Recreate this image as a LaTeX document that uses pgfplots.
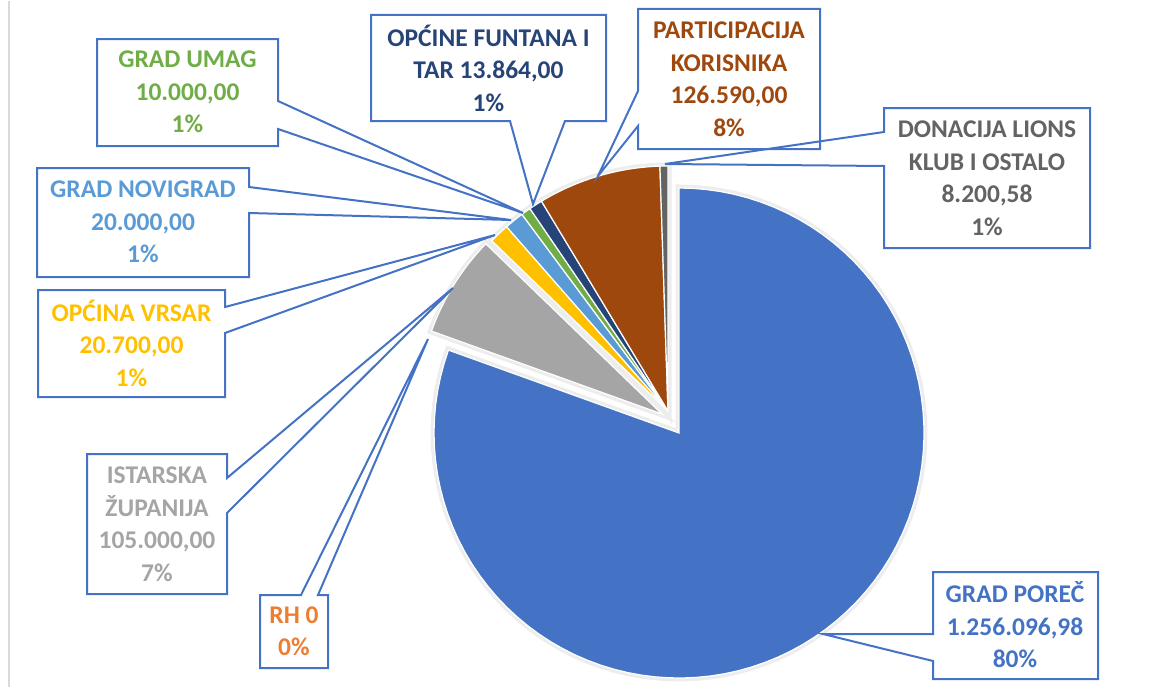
\documentclass[border=0pt]{standalone}
\usepackage{fontspec}
\setmainfont{Carlito}
\usepackage{pgfplots}
\pgfplotsset{compat=1.18}
\usepackage{pgfplotstable}

\definecolor{slice0}{HTML}{4472C4} % Grad Poreč
\definecolor{slice1}{HTML}{ED7D31} % RH
\definecolor{slice2}{HTML}{A5A5A5} % Istarska županija
\definecolor{slice3}{HTML}{FFC000} % Općina Vrsar
\definecolor{slice4}{HTML}{5B9BD5} % Grad Novigrad
\definecolor{slice5}{HTML}{70AD47} % Grad Umag
\definecolor{slice6}{HTML}{264478} % Općine Funtana i Tar
\definecolor{slice7}{HTML}{9E480E} % Participacija korisnika
\definecolor{slice8}{HTML}{636363} % Donacija Lions klub
\colorlet{callout}{slice0}

% slices clockwise from 12 o'clock; dx dy = explosion offset (px)
\pgfplotstableread{
value      dx  dy
1256096.98 11  22
0           0   0
105000.00  -6   3
20700.00    0   0
20000.00    0   0
10000.00    0   0
13864.00    0   0
126590.00   0   0
8200.58     0   0
}\piedata

\def\total{0}
\pgfplotsforeachungrouped \i in {0,...,8}{%
  \pgfplotstablegetelem{\i}{value}\of\piedata
  \edef\total{\fpeval{\total+\pgfplotsretval}}}

\newcommand\pieslices[1]{%
  \def\cum{0}%
  \pgfplotsforeachungrouped \i in {0,...,8}{%
    \pgfplotstablegetelem{\i}{value}\of\piedata \let\v\pgfplotsretval
    \pgfplotstablegetelem{\i}{dx}\of\piedata \let\dx\pgfplotsretval
    \pgfplotstablegetelem{\i}{dy}\of\piedata \let\dy\pgfplotsretval
    \edef\a{\fpeval{round(-90+360*\cum/\total,4)}}%
    \edef\cum{\fpeval{\cum+\v}}%
    \edef\b{\fpeval{round(-90+360*\cum/\total,4)}}%
    \edef\cx{\fpeval{668+\dx}}\edef\cy{\fpeval{410+\dy}}%
    \ifnum\fpeval{\v>0}>0
      \edef\doplot{\noexpand\addplot[fill=slice\i, #1, domain=\a:\b,
        samples=90, variable=\noexpand\t]
        ({\cx+245*cos(\noexpand\t)}, {\cy+245*sin(\noexpand\t)})
        -- (\cx,\cy) -- cycle;}%
      \doplot
    \fi}}

\begin{document}
\begin{tikzpicture}[
  callout/.style={draw=callout, line width=2pt, line join=miter},
  lbl/.style={font=\fontsize{25.5}{32.5}\selectfont\bfseries,
    align=center, inner sep=0pt},
]
\begin{axis}[
  width=1153pt, height=686pt, scale only axis,
  xmin=0, xmax=1153, ymin=0, ymax=686, y dir=reverse,
  hide axis, clip=false,
]
\path (0,0) rectangle (1153,686);
\draw[black!15, line width=2pt] (9,0) -- (9,686);

\pieslices{fill=none, draw=black!7, line width=7pt}
\pieslices{draw=white, line width=1.2pt}

\draw[callout] (97,38) -- (278,38) -- (278,100) -- (523,212) -- (278,128)
  -- (278,145) -- (97,145) -- cycle;
\draw[callout] (371,14) -- (606,14) -- (606,120) -- (565,120) -- (533,203)
  -- (510,120) -- (371,120) -- cycle;
\draw[callout] (638,8) -- (820,8) -- (820,148) -- (638,148) -- (638,125)
  -- (598,175) -- (638,90) -- cycle;
\draw[callout] (884,107) -- (1090,107) -- (1090,247) -- (884,247) -- (884,165)
  -- (665,163) -- (884,131) -- cycle;
\draw[callout] (37,167) -- (249,167) -- (249,186) -- (511,219) -- (249,212)
  -- (249,276) -- (37,276) -- cycle;
\draw[callout] (38,289) -- (225,289) -- (225,306) -- (495,234) -- (225,332)
  -- (225,396) -- (38,396) -- cycle;
\draw[callout] (87,453) -- (227,453) -- (227,477) -- (453,287) -- (227,512)
  -- (227,593) -- (87,593) -- cycle;
\draw[callout] (260,594) -- (301,594) -- (428,338) -- (318,594) -- (328,594)
  -- (328,667) -- (260,667) -- cycle;
\draw[callout] (933,571) -- (1098,571) -- (1098,678) -- (933,678) -- (933,660)
  -- (823,633) -- (933,633) -- cycle;

\node[lbl, text=slice5] at (187.5,91) {GRAD UMAG\\10.000,00\\1\%};
\node[lbl, text=slice6] at (488.5,67) {OPĆINE FUNTANA I\\TAR 13.864,00\\1\%};
\node[lbl, text=slice7] at (729,78) {PARTICIPACIJA\\KORISNIKA\\126.590,00\\8\%};
\node[lbl, text=slice8] at (987,177) {DONACIJA LIONS\\KLUB I OSTALO\\8.200,58\\1\%};
\node[lbl, text=slice4] at (143,221) {GRAD NOVIGRAD\\20.000,00\\1\%};
\node[lbl, text=slice3] at (131.5,342) {OPĆINA VRSAR\\20.700,00\\1\%};
\node[lbl, text=slice2] at (157,523) {ISTARSKA\\ŽUPANIJA\\105.000,00\\7\%};
\node[lbl, text=slice1] at (294,630) {RH 0\\0\%};
\node[lbl, text=slice0] at (1015,624) {GRAD POREČ\\1.256.096,98\\80\%};
\end{axis}
\end{tikzpicture}
\end{document}
